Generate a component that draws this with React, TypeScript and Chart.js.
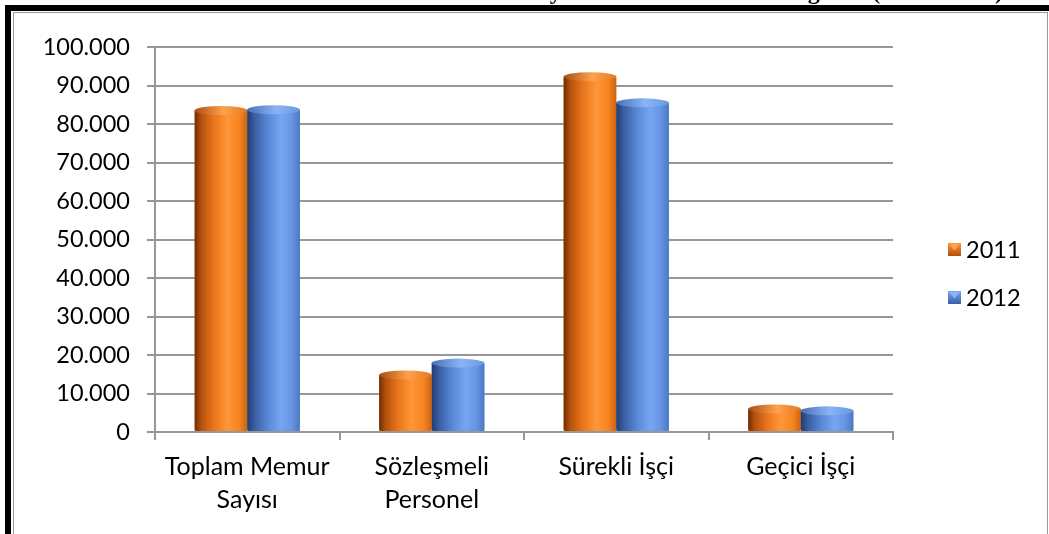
import React, { useEffect, useRef } from "react";
import { Chart, registerables } from "chart.js";
Chart.register(...registerables);

const FONT = "Lato, 'Open Sans', sans-serif";

const TITLE = "Kamu Personel Sayılarının Yıllara Göre Dağılımı (2011 - 2012)";
const categories: (string | string[])[] = [
  ["Toplam Memur", "Sayısı"],
  ["Sözleşmeli", "Personel"],
  "Sürekli İşçi",
  "Geçici İşçi",
];
const seriesLabels = ["2011", "2012"];
const values2011 = [83500, 14800, 92300, 6000];
const values2012 = [83700, 17900, 85500, 5500];
const yMax = 100000;
const yStep = 10000;

const PALETTES = [
  {
    solid: "#f5841f",
    body: [
      [0, "#6e2c05"],
      [0.12, "#b2500c"],
      [0.35, "#e8741a"],
      [0.62, "#ff9638"],
      [0.85, "#f5841f"],
      [1, "#cc640f"],
    ],
    top: [
      [0, "#a84e12"],
      [0.55, "#ffa24c"],
      [1, "#e07a22"],
    ],
  },
  {
    solid: "#5b8bd8",
    body: [
      [0, "#233c6c"],
      [0.15, "#3a60a6"],
      [0.4, "#5a89d8"],
      [0.65, "#76a5f2"],
      [0.85, "#6694e2"],
      [1, "#4c78c4"],
    ],
    top: [
      [0, "#4a70b8"],
      [0.55, "#8ab4f7"],
      [1, "#6a98e0"],
    ],
  },
];

const fmt = (v: number) => {
  const s = Math.round(v).toString();
  return s.replace(/\B(?=(\d{3})+(?!\d))/g, ".");
};

const cylinderPlugin = {
  id: "cylinder",
  afterDatasetsDraw(chart: any) {
    const ctx = chart.ctx as CanvasRenderingContext2D;
    chart.data.datasets.forEach((_ds: any, di: number) => {
      const meta = chart.getDatasetMeta(di);
      const pal = PALETTES[di];
      meta.data.forEach((el: any) => {
        const { x, y, base, width } = el.getProps(["x", "y", "base", "width"], true);
        const l = x - width / 2;
        const r = x + width / 2;
        const ry = Math.min(4.5, (base - y) / 2);
        ctx.save();
        const g = ctx.createLinearGradient(l, 0, r, 0);
        pal.body.forEach(([o, c]: any) => g.addColorStop(o, c));
        ctx.fillStyle = g;
        ctx.beginPath();
        ctx.moveTo(l, y);
        ctx.lineTo(l, base - 2);
        ctx.quadraticCurveTo(l, base, l + 3, base);
        ctx.lineTo(r - 3, base);
        ctx.quadraticCurveTo(r, base, r, base - 2);
        ctx.lineTo(r, y);
        ctx.closePath();
        ctx.fill();
        const gt = ctx.createLinearGradient(l, 0, r, 0);
        pal.top.forEach(([o, c]: any) => gt.addColorStop(o, c));
        ctx.fillStyle = gt;
        ctx.beginPath();
        ctx.ellipse(x, y, width / 2, ry, 0, 0, Math.PI * 2);
        ctx.fill();
        ctx.restore();
      });
    });
  },
};

const legendPlugin = {
  id: "customLegend",
  afterDraw(chart: any) {
    const ctx = chart.ctx as CanvasRenderingContext2D;
    const area = chart.chartArea;
    const mid = (area.top + area.bottom) / 2;
    const x0 = area.right + 55;
    chart.data.datasets.forEach((ds: any, i: number) => {
      const pal = PALETTES[i];
      const cy = mid + 10 + i * 48;
      const s = 13;
      const bx = x0;
      const by = cy - s / 2;
      ctx.save();
      const g = ctx.createLinearGradient(0, by, 0, by + s);
      g.addColorStop(0, pal.body[3][1] as string);
      g.addColorStop(1, pal.body[1][1] as string);
      ctx.fillStyle = g;
      ctx.fillRect(bx, by, s, s);
      ctx.fillStyle = pal.top[1][1] as string;
      ctx.beginPath();
      ctx.moveTo(bx + 1, by + 1);
      ctx.lineTo(bx + s - 1, by + 1);
      ctx.lineTo(bx + s / 2, by + s / 2 + 1);
      ctx.closePath();
      ctx.fill();
      ctx.fillStyle = "#000";
      ctx.font = `23.5px ${FONT}`;
      ctx.textBaseline = "middle";
      ctx.textAlign = "left";
      ctx.fillText(ds.label, bx + s + 5, cy + 1);
      ctx.restore();
    });
  },
};

export default function App() {
  const ref = useRef<HTMLCanvasElement>(null);
  useEffect(() => {
    const chart = new Chart(ref.current!, {
      type: "bar",
      data: {
        labels: categories,
        datasets: [
          { label: seriesLabels[0], data: values2011, backgroundColor: PALETTES[0].solid },
          { label: seriesLabels[1], data: values2012, backgroundColor: PALETTES[1].solid },
        ],
      },
      options: {
        responsive: false,
        animation: false,
        devicePixelRatio: 1,
        categoryPercentage: 0.57,
        barPercentage: 1,
        layout: { padding: { top: 47, right: 156, bottom: 0, left: 0 } },
        plugins: { legend: { display: false }, tooltip: { enabled: false } },
        scales: {
          x: {
            afterFit: (s: any) => {
              s.height = 102;
            },
            grid: {
              display: true,
              drawOnChartArea: false,
              drawTicks: true,
              tickLength: 8,
              color: "#979797",
              lineWidth: 2,
            },
            border: { display: true, color: "#979797", width: 2 },
            ticks: {
              color: "#000",
              font: { family: FONT, size: 25, lineHeight: 1.32 },
              padding: 10,
              maxRotation: 0,
              autoSkip: false,
            },
          },
          y: {
            min: 0,
            max: yMax,
            afterFit: (s: any) => {
              s.width = 155;
            },
            grid: { color: "#979797", lineWidth: 2, drawTicks: true, tickLength: 8 },
            border: { display: true, color: "#979797", width: 2 },
            ticks: {
              stepSize: yStep,
              color: "#000",
              font: { family: FONT, size: 23.5 },
              padding: 17,
              callback: (v: any) => fmt(Number(v)),
            },
          },
        },
      },
      plugins: [cylinderPlugin, legendPlugin],
    });
    return () => chart.destroy();
  }, []);

  return (
    <div
      style={{
        position: "fixed",
        left: 0,
        top: 0,
        width: 1049,
        height: 534,
        background: "#fff",
        overflow: "hidden",
      }}
    >
      <canvas
        ref={ref}
        width={1049}
        height={534}
        style={{ position: "absolute", left: 0, top: 0, width: 1049, height: 534 }}
      />
      <div
        style={{
          position: "absolute",
          left: 0,
          top: 0,
          width: 1049,
          height: 5,
          overflow: "hidden",
        }}
      >
        <div
          style={{
            position: "absolute",
            right: 46,
            top: -21,
            whiteSpace: "nowrap",
            fontFamily: "'Liberation Serif', 'Times New Roman', serif",
            fontWeight: "bold",
            fontSize: 24,
            lineHeight: "24px",
            color: "#000",
          }}
        >
          {TITLE}
        </div>
      </div>
      <div style={{ position: "absolute", left: 5, top: 5, width: 1044, height: 6, background: "#000" }} />
      <div style={{ position: "absolute", left: 5, top: 5, width: 6, height: 529, background: "#000" }} />
      <div style={{ position: "absolute", left: 13, top: 12, width: 1, height: 522, background: "#9a9a9a" }} />
      <div style={{ position: "absolute", left: 13, top: 12, width: 1035, height: 1, background: "#9a9a9a" }} />
      <div style={{ position: "absolute", left: 1047, top: 12, width: 1, height: 522, background: "#9a9a9a" }} />
    </div>
  );
}
